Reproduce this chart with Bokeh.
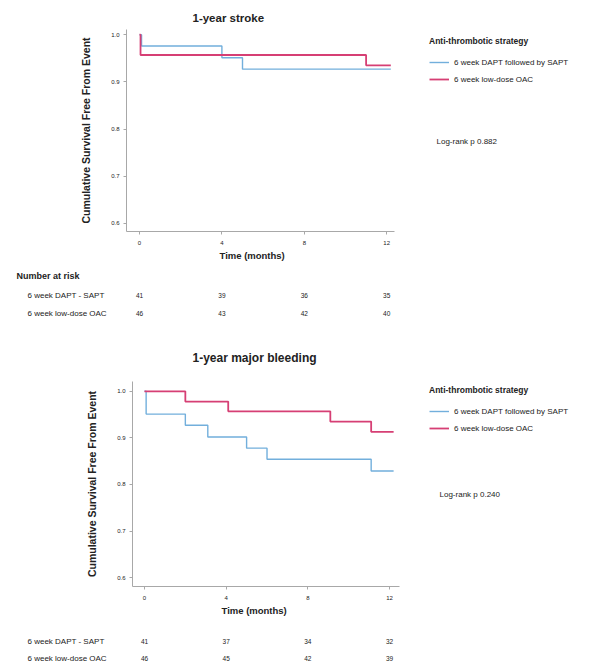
from bokeh.plotting import figure
from bokeh.models import (Range1d, FixedTicker, Legend, LegendItem, Label, ColumnDataSource,
                          NumeralTickFormatter, Title)
from bokeh.layouts import column
from bokeh.embed import file_html
from bokeh.resources import INLINE
from bokeh.core.properties import value

# ---------------- data ----------------
stroke_dapt_t = [0, 0.1, 4.0, 5.0, 12.2]
stroke_dapt_s = [1.0, 0.976, 0.951, 0.927, 0.927]
stroke_oac_t = [0, 0.05, 11.0, 12.2]
stroke_oac_s = [1.0, 0.957, 0.935, 0.935]

bleed_dapt_t = [0, 0.08, 2.0, 3.1, 5.0, 6.0, 11.1, 12.2]
bleed_dapt_s = [1.0, 0.951, 0.927, 0.902, 0.878, 0.854, 0.829, 0.829]
bleed_oac_t = [0, 2.0, 4.1, 9.1, 11.1, 12.2]
bleed_oac_s = [1.0, 0.978, 0.957, 0.935, 0.913, 0.913]

risk_times = [0, 4, 8, 12]
stroke_dapt_risk = [41, 39, 36, 35]
stroke_oac_risk = [46, 43, 42, 40]
bleed_dapt_risk = [41, 37, 34, 32]
bleed_oac_risk = [46, 45, 42, 39]

group_labels = ["6 week DAPT followed by SAPT", "6 week low-dose OAC"]
risk_labels = ["6 week DAPT - SAPT", "6 week low-dose OAC"]
y_ticks = [0.6, 0.7, 0.8, 0.9, 1.0]
x_ticks = [0, 4, 8, 12]

BLUE = "#72afdc"
PINK = "#d63f74"
AXIS = "#a8a8a8"
TXT = "#222222"
FONT = "Liberation Sans"
OX = 1          # page x of the figures' left edge
W = 584


def km_figure(title, title_size, title_offset, title_standoff, height, b_top, b_bottom, b_left,
              x_start, axis_end, scale, yr, dapt, oac, leg_loc, logrank, lr_loc, xlab_offset):
    frame_w = W - b_left
    p = figure(width=W, height=height, output_backend="svg", toolbar_location=None,
               x_range=Range1d(x_start, x_start + frame_w / scale), y_range=Range1d(*yr),
               min_border_left=b_left, min_border_right=0,
               min_border_top=b_top, min_border_bottom=b_bottom, frame_align=False)
    p.title.text = title
    p.title.align = "left"
    p.title.offset = title_offset
    p.title.standoff = title_standoff
    p.title.text_font = FONT
    p.title.text_font_size = title_size
    p.title.text_font_style = "bold"
    p.title.text_color = TXT
    p.outline_line_color = None
    p.xgrid.visible = False
    p.ygrid.visible = False
    for ax in (p.xaxis, p.yaxis):
        ax.axis_line_color = AXIS
        ax.major_tick_line_color = AXIS
        ax.minor_tick_line_color = None
        ax.major_tick_out = 3
        ax.major_tick_in = 0
        ax.major_label_text_font_size = "6px"
        ax.major_label_text_font = FONT
        ax.major_label_text_color = TXT
        ax.axis_label_text_font = FONT
        ax.axis_label_text_font_style = "bold"
        ax.axis_label_text_color = TXT
    p.xaxis.major_label_standoff = 6
    p.yaxis.major_label_standoff = 4
    p.xaxis.bounds = (x_start, axis_end)
    p.xaxis.ticker = FixedTicker(ticks=x_ticks)
    p.yaxis.ticker = FixedTicker(ticks=y_ticks)
    p.yaxis.formatter = NumeralTickFormatter(format="0.0")
    p.yaxis.axis_label = "Cumulative Survival Free From Event"
    p.yaxis.axis_label_text_font_size = "10.5px"
    p.yaxis.axis_label_standoff = 16

    xt = Title(text="Time (months)", align="left", offset=xlab_offset, standoff=0,
               text_font=FONT, text_font_size="9.5px", text_font_style="bold",
               text_color=TXT)
    p.add_layout(xt, "below")

    r1 = p.step(dapt[0], dapt[1], mode="after", line_color=BLUE, line_width=1.4)
    r2 = p.step(oac[0], oac[1], mode="after", line_color=PINK, line_width=1.8)

    leg = Legend(items=[LegendItem(label=group_labels[0], renderers=[r1]),
                        LegendItem(label=group_labels[1], renderers=[r2])],
                 location=leg_loc, title="Anti-thrombotic strategy")
    leg.background_fill_alpha = 0
    leg.border_line_color = None
    leg.padding = 0
    leg.margin = 0
    leg.spacing = 3
    leg.label_height = 14
    leg.glyph_height = 14
    leg.glyph_width = 20
    leg.label_standoff = 5
    leg.title_standoff = 9
    leg.label_text_font = FONT
    leg.label_text_font_size = "8px"
    leg.label_text_color = TXT
    leg.title_text_font = FONT
    leg.title_text_font_size = "8.5px"
    leg.title_text_font_style = "bold"
    leg.title_text_color = TXT
    p.add_layout(leg)

    p.add_layout(Label(x=lr_loc[0], y=lr_loc[1], x_units="screen", y_units="screen",
                       text=logrank, text_font=FONT, text_font_size="8px",
                       text_color=TXT, text_baseline="middle"))
    return p


def risk_figure(height, px0, scale, dapt_risk, oac_risk, rows_y, header=None, header_y=None):
    # px0: page-x of month 0, scale: px per month; figure spans page x OX..OX+W
    xs = (OX - px0) / scale
    xe = (OX + W - px0) / scale
    p = figure(width=W, height=height, output_backend="svg", toolbar_location=None,
               x_range=Range1d(xs, xe), y_range=Range1d(height, 0),
               x_axis_type=None, y_axis_type=None, frame_align=False,
               min_border_left=0, min_border_right=0, min_border_top=0, min_border_bottom=0)
    p.outline_line_color = None
    lab_x = (28 - px0) / scale
    src = ColumnDataSource(dict(x=risk_times * 2,
                                y=[rows_y[0]] * 4 + [rows_y[1]] * 4,
                                t=[str(v) for v in dapt_risk + oac_risk]))
    p.text(x="x", y="y", text="t", source=src, text_font=value(FONT), text_font_size="6.5px",
           text_color=TXT, text_align="center", text_baseline="middle")
    lsrc = ColumnDataSource(dict(x=[lab_x, lab_x], y=rows_y, t=risk_labels))
    p.text(x="x", y="y", text="t", source=lsrc, text_font=value(FONT), text_font_size="8px",
           text_color=TXT, text_align="left", text_baseline="middle")
    if header:
        p.add_layout(Label(x=(17 - px0) / scale, y=header_y, text=header,
                           text_font=FONT, text_font_size="9px", text_font_style="bold",
                           text_color=TXT, text_baseline="middle"))
    return p


s_top = 20.6
s_bot = 20.42

p1 = km_figure("1-year stroke", "11.5px", 66, 12, 261, 29, 30, 127 - OX,
               -13 / s_top, -13 / s_top + 268 / s_top, s_top, (0.583, 1.011),
               (stroke_dapt_t, stroke_dapt_s), (stroke_oac_t, stroke_oac_s),
               (303, 145), "Log-rank p 0.882", (310, 90), 93)
r1 = risk_figure(60, 140, s_top, stroke_dapt_risk, stroke_oac_risk, [34, 52],
                 header="Number at risk", header_y=14)
p2 = km_figure("1-year major bleeding", "12px", 60, 33, 298, 60, 33, 133 - OX,
               -12 / s_bot, -12 / s_bot + 267 / s_bot, s_bot, (0.581, 1.021),
               (bleed_dapt_t, bleed_dapt_s), (bleed_oac_t, bleed_oac_s),
               (297, 151), "Log-rank p 0.240", (307, 92), 89)
r2 = risk_figure(44, 145, s_bot, bleed_dapt_risk, bleed_oac_risk, [22, 39])

layout = column(p1, r1, p2, r2, spacing=0)
open("out.html", "w").write(file_html(layout, INLINE))
